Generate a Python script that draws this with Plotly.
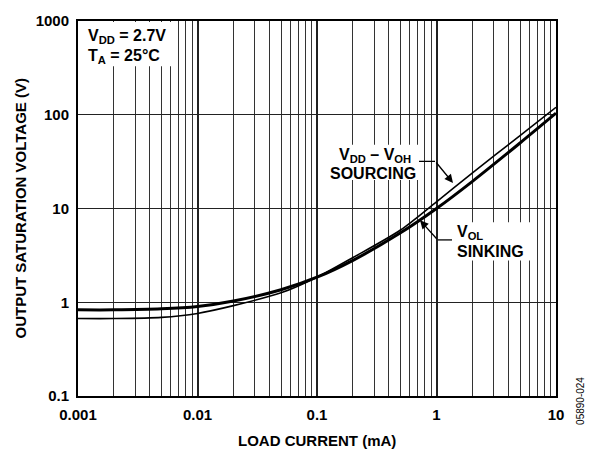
import plotly.graph_objects as go

# Load current (mA) and output saturation voltage readings
load_current_ma = [0.001, 0.002, 0.005, 0.01, 0.02, 0.05, 0.1, 0.2, 0.5, 1, 2, 5, 10]
v_sinking = [0.83, 0.83, 0.85, 0.90, 1.03, 1.36, 1.85, 2.8, 5.5, 10.0, 19.5, 50, 104]
v_sourcing = [0.67, 0.67, 0.69, 0.76, 0.92, 1.26, 1.85, 3.0, 5.9, 11.8, 24, 60, 120]

x_ticks = [0.001, 0.01, 0.1, 1, 10]
x_tick_text = ["0.001", "0.01", "0.1", "1", "10"]
y_ticks = [0.1, 1, 10, 100, 1000]
y_tick_text = ["0.1", "1", "10", "100", "1000"]

FONT = "Liberation Sans"
W, H = 600, 455
ML, MR, MT, MB = 78, 44, 14, 59
PW, PH = W - ML - MR, H - MT - MB


def px(xp):
    return (xp - ML) / PW


def py(yp):
    return (H - MB - yp) / PH


# minor grid positions: 2..9 in every decade
minor_x = [m * d for d in x_ticks[:-1] for m in range(2, 10)]

fig = go.Figure()
fig.add_trace(go.Scatter(x=load_current_ma, y=v_sourcing, mode="lines",
                         line=dict(color="black", width=1.6, shape="spline", smoothing=0.8),
                         name="VDD - VOH sourcing", showlegend=False))
fig.add_trace(go.Scatter(x=load_current_ma, y=v_sinking, mode="lines",
                         line=dict(color="black", width=3, shape="spline", smoothing=0.8),
                         name="VOL sinking", showlegend=False))

tickfont = dict(size=15, family=FONT, weight="bold", color="black")
fig.update_layout(
    width=W, height=H,
    margin=dict(l=ML, r=MR, t=MT, b=MB),
    paper_bgcolor="white", plot_bgcolor="white",
    font=dict(family=FONT, color="black"),
    xaxis=dict(type="log", range=[-3, 1], tickvals=x_ticks, ticktext=x_tick_text,
               showgrid=True, gridcolor="#222", gridwidth=2,
               minor=dict(tickvals=minor_x, showgrid=True, gridcolor="#333", gridwidth=1.3, ticks=""),
               ticks="", tickfont=tickfont, ticklabelstandoff=4,
               showline=True, linecolor="black", linewidth=2, mirror=True, zeroline=False),
    yaxis=dict(type="log", range=[-1, 3], tickvals=y_ticks, ticktext=y_tick_text,
               showgrid=True, gridcolor="#222", gridwidth=1.4,
               ticks="", tickfont=tickfont, ticklabelstandoff=4,
               showline=True, linecolor="black", linewidth=2, mirror=True, zeroline=False),
)

# axis titles
fig.add_annotation(x=0.5, y=py(441), xref="paper", yref="paper", showarrow=False,
                   text="<b>LOAD CURRENT (mA)</b>", yanchor="middle",
                   font=dict(size=15, family=FONT, color="black"))
fig.add_annotation(x=px(20), y=0.5, xref="paper", yref="paper", showarrow=False,
                   text="<b>OUTPUT SATURATION VOLTAGE (V)</b>", textangle=-90, xanchor="center",
                   font=dict(size=15, family=FONT, color="black"))

# white panels behind the in-plot labels
for x0, x1, y0, y1 in [(79, 178, 15, 60), (326, 421, 140, 176), (450, 530, 219, 258)]:
    fig.add_shape(type="rect", xref="paper", yref="paper",
                  x0=px(x0), x1=px(x1), y0=py(y1), y1=py(y0),
                  fillcolor="white", line=dict(width=0), layer="above")

# leader lines
fig.add_shape(type="line", xref="paper", yref="paper", x0=px(419), x1=px(435), y0=py(157), y1=py(157),
              line=dict(color="black", width=1.3), layer="above")
fig.add_shape(type="line", xref="paper", yref="paper", x0=px(438), x1=px(452), y0=py(237), y1=py(237),
              line=dict(color="black", width=1.3), layer="above")

ann = dict(xref="paper", yref="paper", showarrow=False, font=dict(size=16, family=FONT, color="black"))
fig.add_annotation(x=px(86), y=py(30), text="<b>V<sub>DD</sub> = 2.7V</b>", xanchor="left", yanchor="middle", **ann)
fig.add_annotation(x=px(86), y=py(50), text="<b>T<sub>A</sub> = 25°C</b>", xanchor="left", yanchor="middle", **ann)
fig.add_annotation(x=px(375), y=py(151), text="<b>V<sub>DD</sub> – V<sub>OH</sub></b>", xanchor="center", yanchor="middle", **ann)
fig.add_annotation(x=px(373), y=py(169), text="<b>SOURCING</b>", xanchor="center", yanchor="middle", **ann)
fig.add_annotation(x=px(455), y=py(229), text="<b>V<sub>OL</sub></b>", xanchor="left", yanchor="middle", **ann)
fig.add_annotation(x=px(455), y=py(249), text="<b>SINKING</b>", xanchor="left", yanchor="middle", **ann)

# arrows pointing to the curves
arrow = dict(xref="paper", yref="paper", text="", showarrow=True, arrowhead=2,
             arrowsize=1.3, arrowwidth=1.3, arrowcolor="black", axref="pixel", ayref="pixel")
fig.add_annotation(x=px(453), y=py(179), ax=-18, ay=-22, **arrow)
fig.add_annotation(x=px(420), y=py(217), ax=18, ay=20, **arrow)

fig.add_annotation(x=px(588), y=py(428), text="05890-024", textangle=-90, showarrow=False,
                   xref="paper", yref="paper", font=dict(size=10, family=FONT, color="black"))

fig.write_html("out.html")
